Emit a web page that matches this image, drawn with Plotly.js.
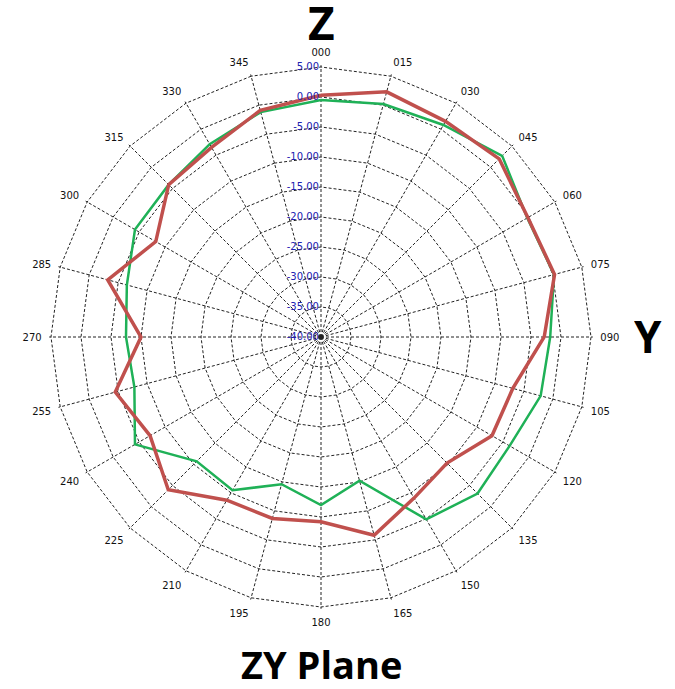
<!DOCTYPE html>
<html>
<head>
<meta charset="utf-8">
<script src="https://cdn.plot.ly/plotly-3.0.1.min.js"></script>
<style>html,body{margin:0;padding:0;background:#fff;}#chart{width:675px;height:689px;}</style>
</head>
<body>
<div id="chart"></div>
<script>
const angleLabels = ["000","015","030","045","060","075","090","105","120","135","150","165","180","195","210","225","240","255","270","285","300","315","330","345"];
const redValues = [0.3,2.3,1.5,2.0,-0.2,0.3,-2.8,-6.9,-7.1,-10.3,-9.0,-5.8,-9.2,-8.7,-8.6,-4.0,-7.1,-4.5,-10.0,-3.2,-8.2,-4.1,-3.5,-0.9];
const greenValues = [-0.5,0.2,0.8,2.7,-0.3,0.2,-1.8,-2.1,-3.7,-3.1,-4.9,-15.2,-12.0,-14.6,-10.5,-10.7,-4.2,-7.8,-7.5,-6.5,-4.2,-4.1,-2.9,-1.2];
const radialTicks = [-40,-35,-30,-25,-20,-15,-10,-5,0,5];

function closed(a){ return a.concat([a[0]]); }

const traces = [
  {type:'scatterpolar', mode:'lines', theta: closed(angleLabels), r: closed(greenValues),
   line:{color:'#1fb157', width:2.5}, hoverinfo:'skip'},
  {type:'scatterpolar', mode:'lines', theta: closed(angleLabels), r: closed(redValues),
   line:{color:'#c0504d', width:3.5}, hoverinfo:'skip'}
];

const layout = {
  width:675, height:689,
  margin:{l:0,r:0,t:0,b:0},
  paper_bgcolor:'#ffffff',
  showlegend:false,
  polar:{
    domain:{x:[49.2/675, 592.8/675], y:[80.2/689, 623.8/689]},
    bgcolor:'#ffffff',
    gridshape:'linear',
    angularaxis:{
      type:'category',
      categoryorder:'array', categoryarray: angleLabels,
      rotation:90, direction:'clockwise',
      showline:false, ticks:'outside', ticklen:5, tickcolor:'rgba(0,0,0,0)',
      gridcolor:'#222', griddash:'3px,2px', gridwidth:1,
      tickfont:{family:'DejaVu Sans', size:10, color:'#111'}
    },
    radialaxis:{
      range:[-40,5.3], angle:90, side:'counterclockwise', tickangle:90,
      tickmode:'array', tickvals: radialTicks,
      ticktext: radialTicks.map(v=>v.toFixed(2)),
      showline:false, ticks:'',
      gridcolor:'#222', griddash:'3px,2px', gridwidth:1,
      tickfont:{family:'DejaVu Sans', size:10, color:'#2020b0'}
    }
  },
  annotations:[
    {text:'<b>Z</b>', x:321/675, y:1-22/689, xref:'paper', yref:'paper', showarrow:false,
     xanchor:'center', yanchor:'middle', height:36, valign:'middle',
     font:{family:'Open Sans', size:46, color:'#000'}},
    {text:'<b>Y</b>', x:648/675, y:1-336/689, xref:'paper', yref:'paper', showarrow:false,
     xanchor:'center', yanchor:'middle', height:36, valign:'middle',
     font:{family:'Open Sans', size:44, color:'#000'}},
    {text:'<b>ZY Plane</b>', x:321/675, y:1-664/689, xref:'paper', yref:'paper', showarrow:false,
     xanchor:'center', yanchor:'middle', height:40, valign:'middle',
     font:{family:'Open Sans', size:38, color:'#000'}}
  ]
};

Plotly.newPlot('chart', traces, layout, {staticPlot:true});
</script>
</body>
</html>
